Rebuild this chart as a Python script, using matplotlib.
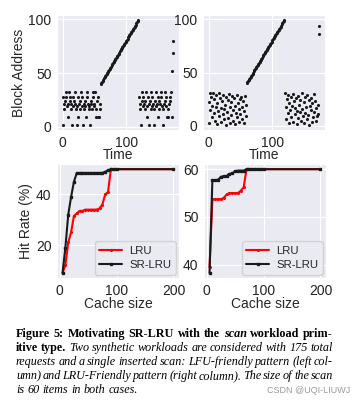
import numpy as np
import seaborn as sns
from matplotlib import pyplot as plt

# --- request traces (block address per request, time = request index) ---
lfu_head = [2, 28, 21, 17, 24, 32, 28, 19, 9, 21,
            32, 24, 28, 17, 21, 2, 19, 28, 24, 32,
            21, 17, 2, 19, 28, 9, 21, 24, 17, 32,
            19, 28, 2, 21, 17, 24, 19, 9, 32, 28,
            21, 17, 19, 2, 24, 21, 17, 32, 28, 19,
            21, 32, 17, 9, 24, 28, 9, 9, 21, 17]
lfu_rest = [28, 21, 17, 2, 24, 32, 19, 28, 21, 24,
            17, 32, 9, 19, 28, 2, 21, 24, 17, 32,
            19, 28, 21, 2, 17, 24, 32, 19, 21, 28,
            9, 17, 24, 21, 32, 28, 19, 17, 2, 21,
            24, 32, 28, 19, 9, 9, 17, 21, 28, 24,
            32, 9, 52, 69, 80]

lru_head = [3, 22, 31, 15, 27, 8, 19, 31, 12, 25,
            5, 18, 29, 2, 21, 14, 31, 9, 26, 17,
            4, 23, 11, 29, 16, 6, 20, 27, 1, 13,
            24, 7, 30, 18, 3, 22, 10, 28, 15, 5,
            26, 19, 2, 12, 29, 8, 21, 16, 4, 25,
            11, 27, 6, 18, 23, 3, 14, 28, 9, 20]
lru_rest = [31, 18, 6, 25, 12, 29, 3, 21, 15, 27,
            8, 19, 30, 4, 23, 11, 17, 26, 2, 14,
            28, 7, 20, 13, 24, 5, 31, 16, 9, 22,
            3, 27, 12, 18, 6, 29, 10, 24, 1, 19,
            15, 26, 4, 21, 8, 30, 13, 23, 5, 17,
            9, 20, 11, 94, 86]

# the inserted scan: 60 consecutive blocks
scan = list(range(40, 100))

# --- hit rates vs cache size ---
cache_sizes = [5, 10, 15, 20, 25, 30, 35, 40, 45, 50, 55,
               60, 65, 70, 75, 80, 85, 90, 95, 100, 200]
lfu_lru = [9, 12, 21, 25, 31.5, 32.5, 33.5, 33.5, 34, 34, 34,
           34, 34, 34.5, 36, 40, 41, 50, 50, 50, 50]
lfu_srlru = [9, 19, 32, 39, 45, 48.5, 48.5, 48.5, 48.5, 48.5, 48.5,
             48.5, 48.5, 48.5, 48.5, 49, 49.5, 50, 50, 50, 50]
lru_lru = [39.5, 53.7, 53.7, 53.7, 53.7, 54, 54.7, 55, 55, 55, 55,
           55.5, 56.2, 60, 60, 60, 60, 60, 60, 60, 60]
lru_srlru = [38.3, 57.7, 57.7, 57.8, 58.4, 58.5, 58.6, 59, 59.1, 59.6, 59.7,
             59.7, 59.7, 60, 60, 60, 60, 60, 60, 60, 60]

sns.set_style('darkgrid')
plt.rcParams['font.family'] = ['Liberation Sans', 'DejaVu Sans']
FS = 10

W, H = 352, 404
fig = plt.figure(figsize=(W / 100, H / 100), dpi=100)


def box(l, t, r, b):
    return [l / W, 1 - b / H, (r - l) / W, (b - t) / H]


def style_ax(ax):
    ax.tick_params(labelsize=FS, pad=0.5, colors='#222222')


for i, (head, rest) in enumerate([(lfu_head, lfu_rest), (lru_head, lru_rest)]):
    addr = head + scan + rest
    t = np.arange(len(addr))
    left = 57 if i == 0 else 203
    ax = fig.add_axes(box(left, 15, left + 122, 130))
    ax.scatter(t, addr, s=5, color='#1a1a1a', linewidths=0)
    ax.set_xticks([0, 100])
    ax.set_yticks([0, 50, 100])
    ax.set_xlabel('Time', fontsize=FS, labelpad=-1)
    if i == 0:
        ax.set_ylabel('Block Address', fontsize=FS, labelpad=2)
    style_ax(ax)

for i, (lru, sr) in enumerate([(lfu_lru, lfu_srlru), (lru_lru, lru_srlru)]):
    left = 57 if i == 0 else 204
    ax = fig.add_axes(box(left, 164, left + 122, 278))
    ax.plot(cache_sizes, lru, color='red', lw=1.5, marker='.', ms=2.5, label='LRU')
    ax.plot(cache_sizes, sr, color='#1a1a1a', lw=1.5, marker='s', ms=1.8, label='SR-LRU')
    ax.set_xticks([0, 100, 200])
    if i == 0:
        ax.set_yticks([20, 40])
        ax.set_ylabel('Hit Rate (%)', fontsize=FS, labelpad=2)
    else:
        ax.set_yticks([40, 50, 60])
    ax.set_xlabel('Cache size', fontsize=FS, labelpad=-0.5)
    ax.legend(loc='lower right', fontsize=8.2, handlelength=2.0, borderpad=0.4,
              labelspacing=0.35, handletextpad=0.6, borderaxespad=0.3)
    style_ax(ax)

# --- caption, justified word by word ---
B, BI, I = ('bold', 'normal'), ('bold', 'italic'), ('normal', 'italic')
cap_lines = [
    [('Figure', B), ('5:', B), ('Motivating', B), ('SR-LRU', B), ('with', B),
     ('the', B), ('scan', BI), ('workload', B), ('prim-', B)],
    [('itive', B), ('type.', B)] + [(w, I) for w in
                                     'Two synthetic workloads are considered with 175 total'.split()],
    [(w, I) for w in 'requests and a single inserted scan: LFU-friendly pattern (left col-'.split()],
    [(w, I) for w in 'umn) and LRU-Friendly pattern (right column). The size of the scan'.split()],
    [(w, I) for w in 'is 60 items in both cases.'.split()],
]
x0, x1 = 16, 333
y_first, dy = 337, 14
cap_fs = 8.7
fig.canvas.draw()
rend = fig.canvas.get_renderer()
for k, words in enumerate(cap_lines):
    y = 1 - (y_first + k * dy) / H
    txts = [fig.text(0, y, w, fontsize=cap_fs, fontweight=st[0], fontstyle=st[1],
                     family=['Liberation Serif', 'DejaVu Serif'], color='black',
                     va='baseline', ha='left') for w, st in words]
    widths = [tx.get_window_extent(rend).width for tx in txts]
    if k < len(cap_lines) - 1:
        gap = (x1 - x0 - sum(widths)) / (len(txts) - 1)
    else:
        gap = cap_fs * 100 / 72 * 0.25
    x = x0
    for tx, wd in zip(txts, widths):
        tx.set_x(x / W)
        x += wd + gap

fig.text(350 / W, 1 - 393 / H, 'CSDN @UQI-LIUWJ', fontsize=6.5, color='#9a9a9a',
         ha='right', va='baseline')

plt.savefig('out.png', dpi=100, facecolor='white')
